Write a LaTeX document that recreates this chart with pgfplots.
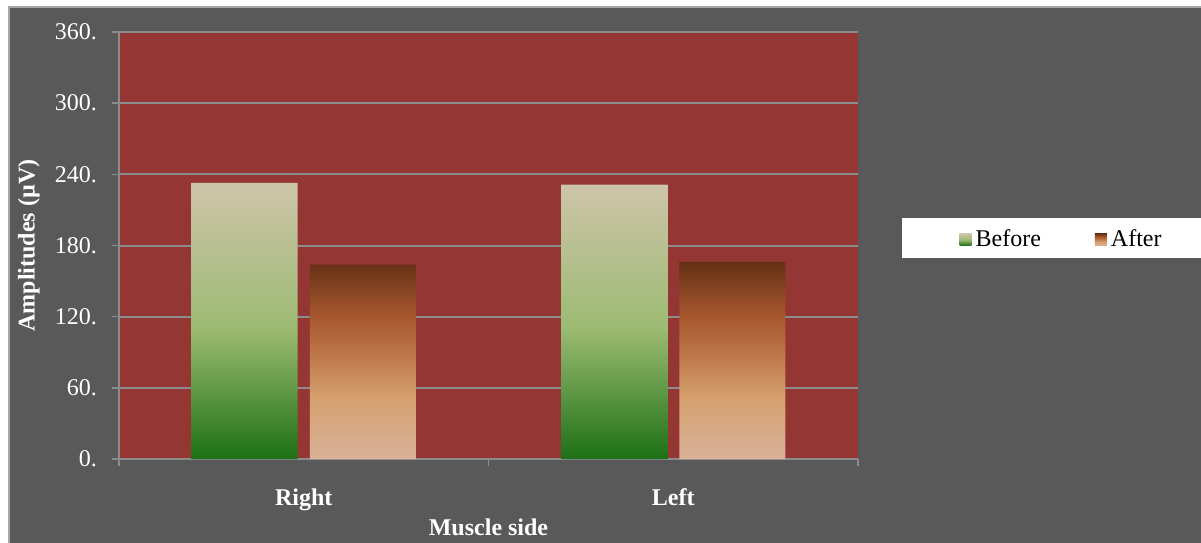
\documentclass[border=0pt]{standalone}
\usepackage{fontspec}
\setmainfont{Liberation Serif}
\usepackage{pgfplots}
\pgfplotsset{compat=1.18}
\definecolor{bggray}{RGB}{89,89,89}
\definecolor{plotred}{RGB}{148,54,52}
\definecolor{gridgray}{RGB}{140,140,140}
\definecolor{bordergray}{RGB}{166,166,166}
\definecolor{gB0}{RGB}{28,112,22}
\definecolor{gB1}{RGB}{110,160,80}
\definecolor{gB2}{RGB}{157,187,115}
\definecolor{gB3}{RGB}{206,196,170}
\definecolor{oA0}{RGB}{216,178,152}
\definecolor{oA1}{RGB}{214,160,110}
\definecolor{oA2}{RGB}{190,120,75}
\definecolor{oA3}{RGB}{168,88,48}
\definecolor{oA4}{RGB}{100,48,20}
\pgfdeclareverticalshading{beforeshade}{100bp}{color(0bp)=(gB0); color(25bp)=(gB0); color(40bp)=(gB1); color(49bp)=(gB2); color(75bp)=(gB3); color(100bp)=(gB3)}
\pgfdeclareverticalshading{aftershade}{100bp}{color(0bp)=(oA0); color(25bp)=(oA0); color(40.5bp)=(oA1); color(51bp)=(oA2); color(61bp)=(oA3); color(75bp)=(oA4); color(100bp)=(oA4)}
\begin{document}
\begin{tikzpicture}
\useasboundingbox (0,0) rectangle (600.5pt,271pt);
\fill[white] (0,0) rectangle (600.5pt,271pt);
\fill[bggray] (4.5pt,-5pt) rectangle (610pt,267.5pt);
\draw[line width=1pt, bordergray] (4.5pt,-5pt) -- (4.5pt,267.5pt) -- (610pt,267.5pt);
\fill[white] (451pt,142pt) rectangle (610pt,162pt);
\begin{axis}[
  at={(59.5pt,41.5pt)}, anchor=south west,
  scale only axis, width=369.5pt, height=213.5pt,
  xmin=-0.5, xmax=1.5, ymin=0, ymax=360,
  axis lines=left, axis line style={-, gridgray, line width=0.8pt},
  axis background/.style={fill=plotred},
  tick align=outside, major tick length=3.5pt,
  tick style={gridgray, line width=0.8pt},
  xtick={-0.5,0.5,1.5}, xticklabels={},
  extra x ticks={0,1}, extra x tick labels={Right,Left},
  extra x tick style={major tick length=0pt, xticklabel style={font=\fontsize{12}{14}\selectfont\bfseries, text=white, yshift=-11.5pt}},
  ytick={0,60,120,180,240,300,360},
  yticklabels={0.,60.,120.,180.,240.,300.,360.},
  yticklabel style={font=\fontsize{12}{14}\selectfont, text=white, xshift=-4pt},
  ymajorgrids, grid style={gridgray, line width=1pt},
  ybar=6pt, bar width=53pt,
  xlabel={Muscle side}, ylabel={Amplitudes (µV)},
  xlabel style={font=\fontsize{12}{14}\selectfont\bfseries, text=white, at={(axis description cs:0.5,-0.16)}, anchor=center},
  ylabel style={font=\fontsize{12}{14}\selectfont\bfseries, text=white, at={(axis description cs:-0.122,0.5)}, anchor=center, rotate=0},
  legend columns=2,
  legend style={draw=none, fill=none, inner sep=0pt, at={(axis description cs:1.137,0.514)}, anchor=west, font=\fontsize{12}{14}\selectfont, /tikz/every even column/.append style={column sep=25pt}},
]
\addplot[draw=none, shading=beforeshade, legend image code/.code={\shade[shading=beforeshade] (0pt,-3pt) rectangle (6pt,3pt);}] coordinates {(0,232.8) (1,231.3)};
\addplot[draw=none, shading=aftershade, legend image code/.code={\shade[shading=aftershade] (0pt,-3pt) rectangle (6pt,3pt);}] coordinates {(0,163.8) (1,166.3)};
\legend{Before,After}
\end{axis}
\end{tikzpicture}
\end{document}
